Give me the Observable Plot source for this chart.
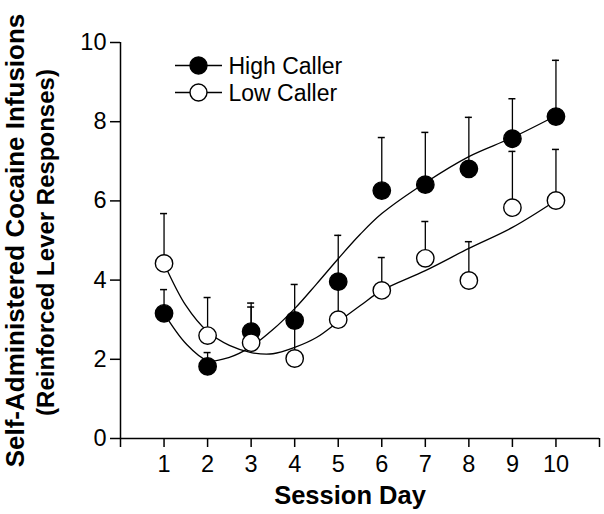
<!DOCTYPE html>
<html><head><meta charset="utf-8">
<script src="https://cdn.jsdelivr.net/npm/d3@7"></script>
<script src="https://cdn.jsdelivr.net/npm/@observablehq/plot@0.6"></script>
<style>body{margin:0;background:#fff}</style>
</head><body><div id="chart"></div>
<script>
// ---- data ----
const days = [1, 2, 3, 4, 5, 6, 7, 8, 9, 10];
const highMean  = [3.16, 1.82, 2.70, 2.98, 3.96, 6.26, 6.41, 6.81, 7.57, 8.13];
const highUpper = [3.76, 2.17, 3.42, 3.89, 5.13, 7.60, 7.73, 8.11, 8.58, 9.55];
const lowMean   = [4.42, 2.60, 2.42, 2.02, 3.00, 3.74, 4.55, 3.99, 5.83, 6.01];
const lowUpper  = [5.68, 3.56, 3.32, 2.80, 3.90, 4.57, 5.48, 4.97, 7.25, 7.30];
const fitDays = [1, 1.5, 2, 2.5, 3, 3.5, 4, 4.5, 5, 5.5, 6, 7, 8, 9, 10];
const highFit = [3.16, 2.40, 1.97, 2.05, 2.32, 2.75, 3.28, 3.90, 4.54, 5.15, 5.68, 6.46, 7.12, 7.60, 8.15];
const lowFit  = [4.42, 3.36, 2.70, 2.35, 2.17, 2.14, 2.30, 2.55, 2.95, 3.35, 3.74, 4.24, 4.80, 5.33, 6.01];
const seriesNames = ["High Caller", "Low Caller"];
const seriesFill = ["black", "white"];
const xTicks = [0, 1, 2, 3, 4, 5, 6, 7, 8, 9, 10, 11];
const xTickLabels = ["", "1", "2", "3", "4", "5", "6", "7", "8", "9", "10", ""];
const yTicks = [0, 2, 4, 6, 8, 10];
const xTitle = "Session Day";
const yTitle1 = "Self-Administered Cocaine Infusions";
const yTitle2 = "(Reinforced Lever Responses)";

// ---- tables ----
const points = [];
days.forEach((d, i) => {
  points.push({day: d, series: seriesNames[0], mean: highMean[i], upper: highUpper[i]});
  points.push({day: d, series: seriesNames[1], mean: lowMean[i], upper: lowUpper[i]});
});
const fits = [];
fitDays.forEach((d, i) => {
  fits.push({day: d, series: seriesNames[0], v: highFit[i]});
  fits.push({day: d, series: seriesNames[1], v: lowFit[i]});
});
const labelOf = new Map(xTicks.map((t, i) => [t, xTickLabels[i]]));
const lineSym = {draw(ctx) { ctx.moveTo(-23.5, 0); ctx.lineTo(23.5, 0); }};
const font = "'Liberation Sans', Arial, Helvetica, sans-serif";

const legendMarks = seriesNames.flatMap((name, i) => [
  Plot.dot([name], {frameAnchor: "top-left", dx: 78, dy: 23 + i * 27, symbol: lineSym, r: 1, stroke: "black", strokeWidth: 1.3, fill: "none"}),
  Plot.dot([name], {frameAnchor: "top-left", dx: 78, dy: 23 + i * 27, r: 8.5, fill: seriesFill[i], stroke: "black", strokeWidth: 1.4}),
  Plot.text([name], {frameAnchor: "top-left", dx: 108, dy: 24.5 + i * 27, text: d => d, textAnchor: "start", lineAnchor: "middle", fontSize: 23, fill: "black"})
]);

const chart = Plot.plot({
  width: 604, height: 514,
  marginLeft: 120, marginRight: 5, marginTop: 42, marginBottom: 76,
  x: {domain: [0, 11]},
  y: {domain: [0, 10]},
  color: {domain: seriesNames, range: seriesFill},
  style: {fontFamily: font, background: "white", color: "black"},
  marks: [
    Plot.ruleY([0], {stroke: "black", strokeWidth: 1.5}),
    Plot.ruleX([0], {stroke: "black", strokeWidth: 1.5}),
    Plot.axisX({ticks: xTicks, tickFormat: d => labelOf.get(d), tickSize: 9, tickPadding: 8, fontSize: 23.5, label: null, stroke: "black", strokeWidth: 1.5, fill: "black"}),
    Plot.axisY({ticks: yTicks, tickSize: 10, tickPadding: 4, fontSize: 23.5, label: null, stroke: "black", strokeWidth: 1.5, fill: "black"}),
    Plot.line(fits, {x: "day", y: "v", z: "series", curve: "catmull-rom", stroke: "black", strokeWidth: 1.3}),
    Plot.ruleX(points, {x: "day", y1: "mean", y2: "upper", stroke: "black", strokeWidth: 1.3}),
    Plot.ruleY(points, {y: "upper", x1: "day", x2: "day", insetLeft: -3.5, insetRight: -3.5, stroke: "black", strokeWidth: 1.5}),
    Plot.dot(points, {x: "day", y: "mean", r: 8.7, fill: "series", stroke: "black", strokeWidth: 1.4}),
    ...legendMarks,
    Plot.text([xTitle], {frameAnchor: "bottom", dx: -10, dy: 57, text: d => d, fontSize: 25.5, fontWeight: "bold", fill: "black", lineAnchor: "middle", textAnchor: "middle"}),
    Plot.text([yTitle1], {frameAnchor: "left", dx: -105, dy: 0, rotate: -90, text: d => d, fontSize: 26, fontWeight: "bold", fill: "black", lineAnchor: "middle", textAnchor: "middle"}),
    Plot.text([yTitle2], {frameAnchor: "left", dx: -74, dy: 2, rotate: -90, text: d => d, fontSize: 24, fontWeight: "bold", fill: "black", lineAnchor: "middle", textAnchor: "middle"})
  ]
});
document.getElementById("chart").appendChild(chart);
</script>
</body></html>
